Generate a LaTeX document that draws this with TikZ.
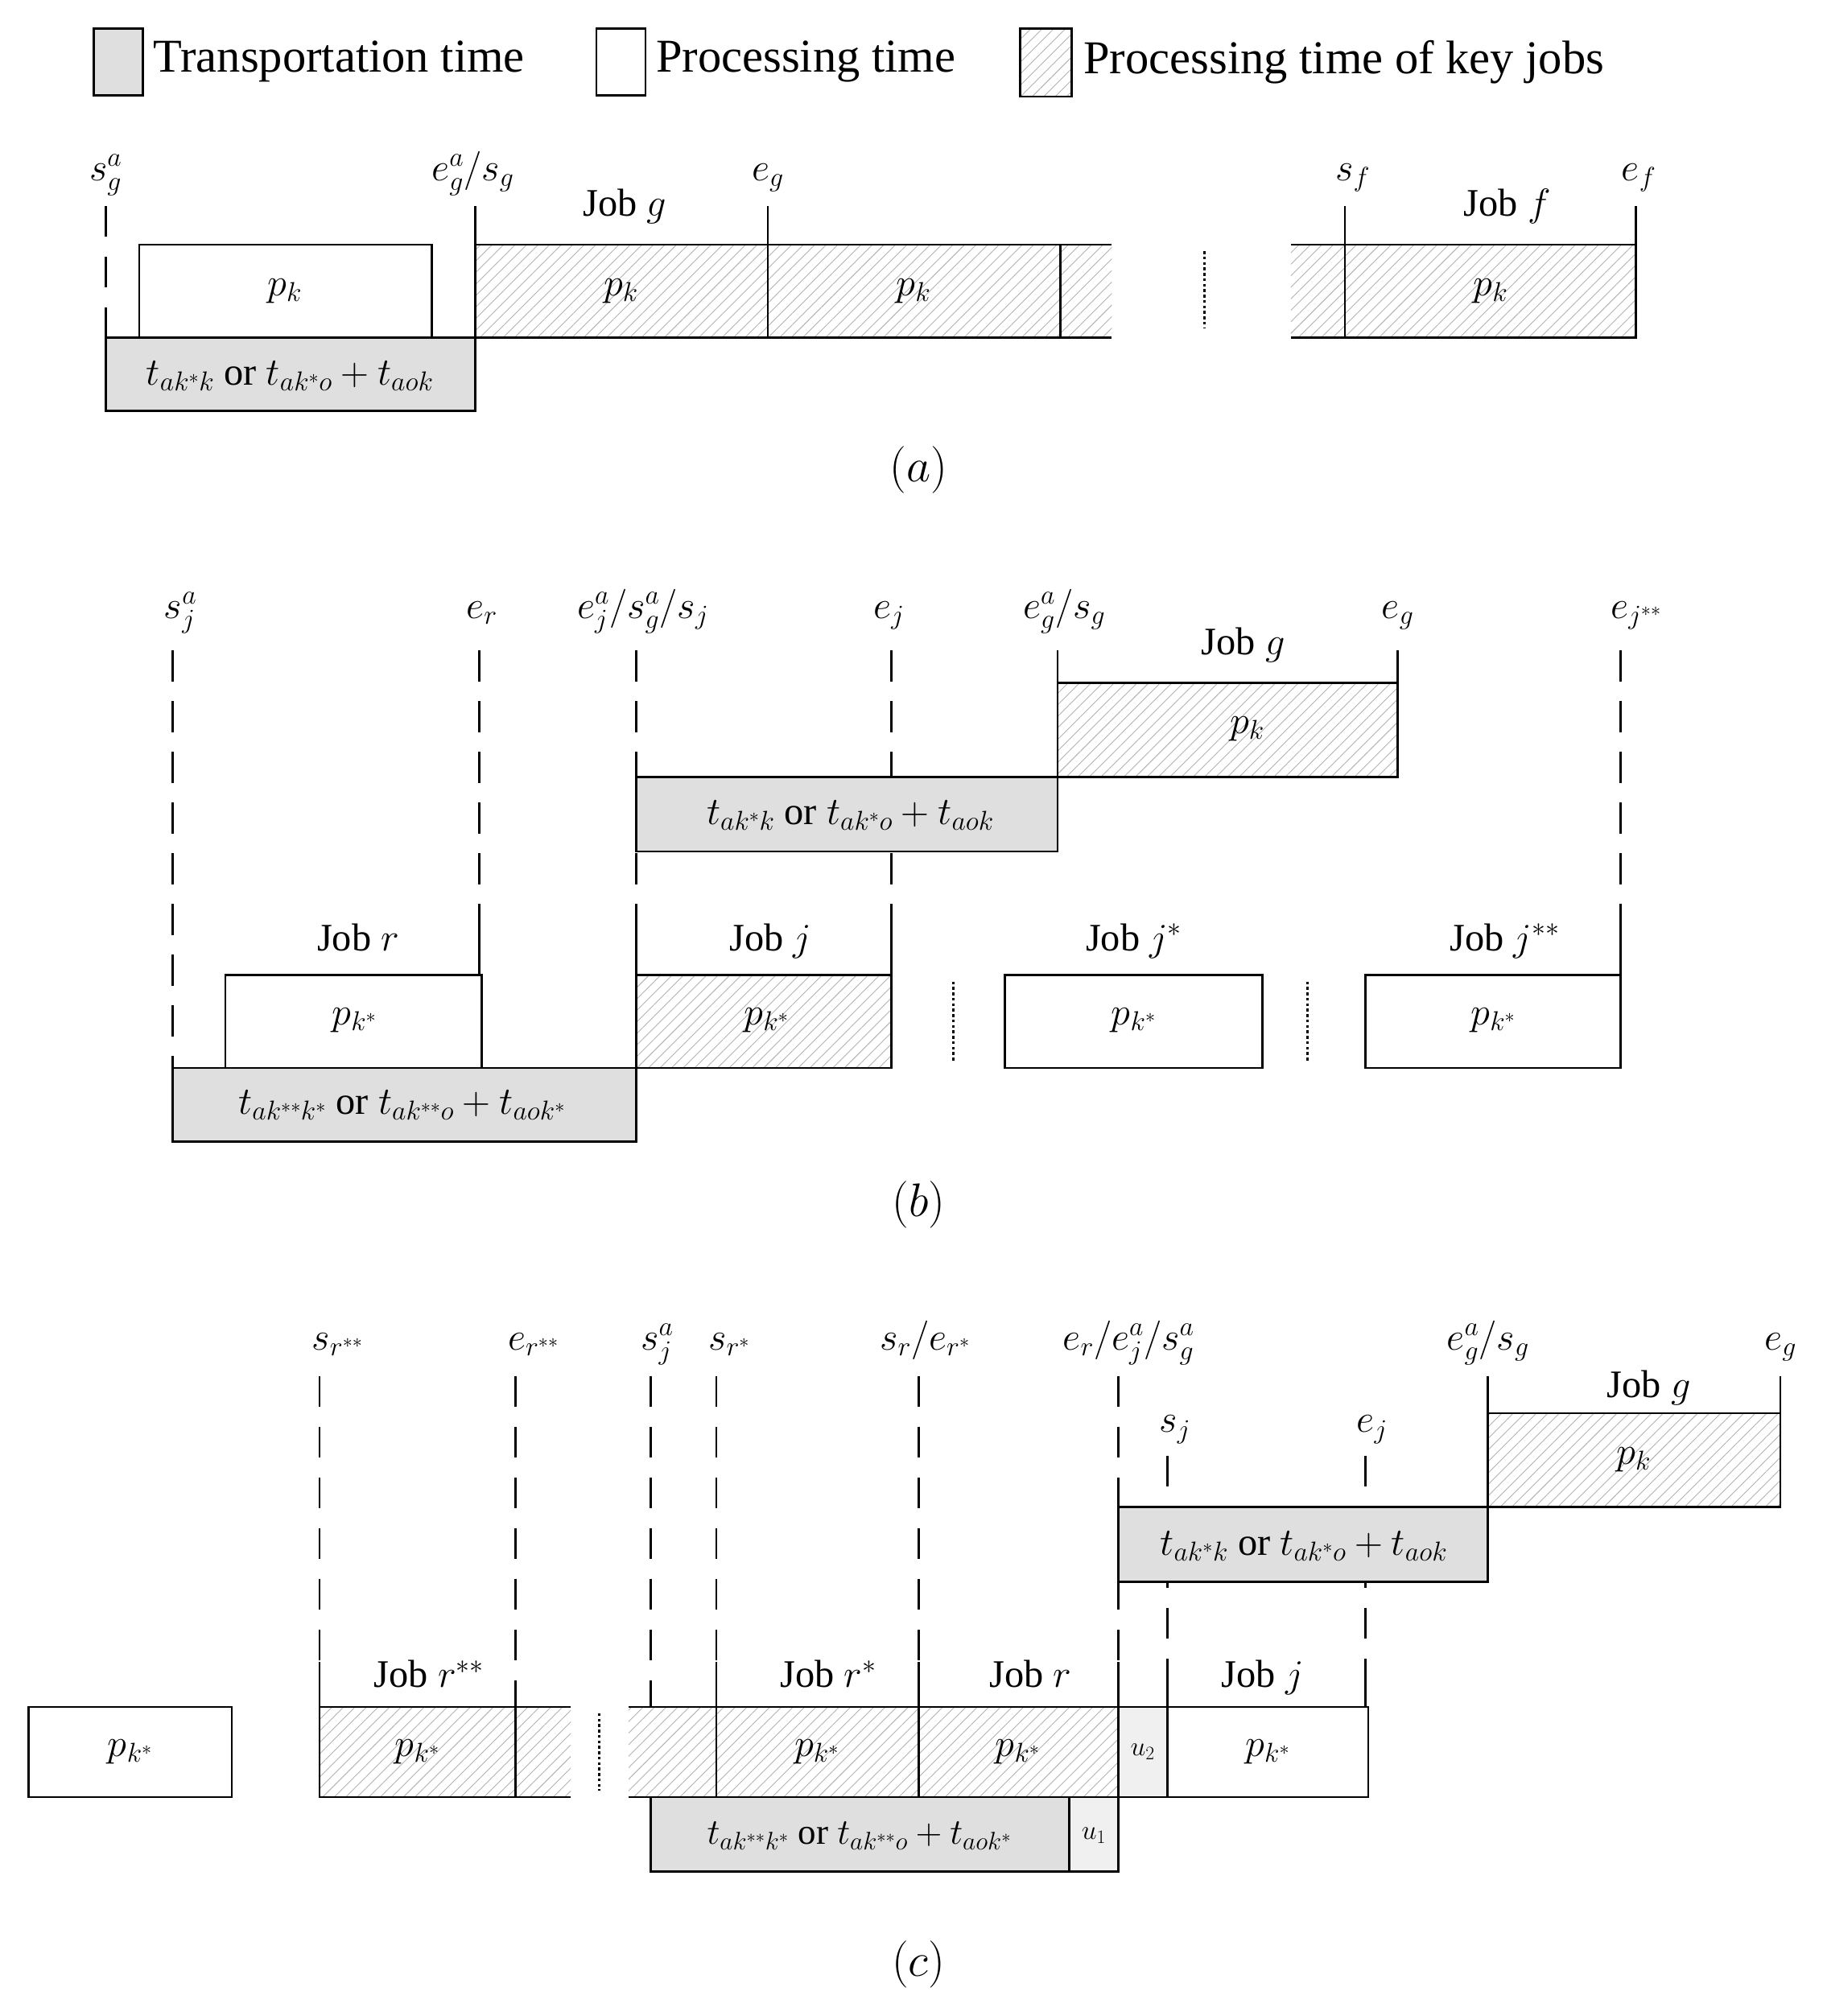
\RequirePackage{fix-cm}
\documentclass[tikz,border=0pt]{standalone}
\usepackage{fontspec}
\setmainfont{Liberation Serif}
\usetikzlibrary{patterns.meta}
\begin{document}
\begin{tikzpicture}[x=0.05cm,y=-0.05cm,line width=2.4pt,
  every node/.style={font=\fontsize{43}{50}\selectfont},
  big/.style={font=\fontsize{52}{60}\selectfont},
  tr/.style={draw,fill=gray!25},
  pr/.style={draw,fill=white},
  hk/.style={pattern={Lines[angle=45,distance=9pt,line width=0.8pt]},pattern color=gray!60},
  dl/.style={dash pattern=on 34pt off 22pt},
  lbl/.style={anchor=base,inner sep=1pt},
  sm/.style={font=\fontsize{30}{34}\selectfont}]
\useasboundingbox (0,0) rectangle (1415,1565);
% legend
\node[tr,minimum width=1.9cm,minimum height=2.6cm,inner sep=0] (L1) at (92,48) {};
\node[anchor=west,big] (L1t) at (116,48) {Transportation time};
\node[pr,minimum width=1.9cm,minimum height=2.6cm,inner sep=0] (L2) at (482,48) {};
\node[anchor=west,big] (L2t) at (506,48) {Processing time};
\draw[hk] (792,22) rectangle (832,75);
\draw (792,22) rectangle (832,75);
\node[anchor=west,big] (L3t) at (838,48) {Processing time of key jobs};
% ===== (a)
\node[lbl] (a1) at (82,140) {$s_g^a$};
\node[lbl] (a2) at (367,140) {$e_g^a/s_g$};
\node[lbl] (a3) at (596,140) {$e_g$};
\node[lbl] (a4) at (1050,140) {$s_f$};
\node[lbl] (a5) at (1272,140) {$e_f$};
\node[lbl] (ja) at (485,168) {Job $g$};
\node[lbl] (jf) at (1170,168) {Job $f$};
\draw[dl] (82,160) -- (82,262);
\draw[pr] (108,190) rectangle (335,262); \node (pa1) at (221,226) {$p_k$};
\draw[tr] (82,262) rectangle (369,319); \node (ta) at (225,292) {$t_{ak^*k}$ or $t_{ak^*o}+t_{aok}$};
\fill[hk] (369,190) rectangle (863,262);
\draw (369,160) -- (369,262) (369,190) -- (863,190) (369,262) -- (863,262);
\draw (596,160) -- (596,262) (823,190) -- (823,262);
\node (pa2) at (482,226) {$p_k$}; \node (pa3) at (709,226) {$p_k$};
\draw[line width=3pt,dash pattern=on 3pt off 3pt] (935,195) -- (935,255);
\fill[hk] (1002,190) rectangle (1270,262);
\draw (1002,190) -- (1270,190) -- (1270,262) -- (1002,262);
\draw (1044,160) -- (1044,262) (1270,160) -- (1270,190);
\node (pa4) at (1157,226) {$p_k$};
\node[big] (capa) at (713,365) {$(a)$};
% ===== (b)
\node[lbl] (b1) at (140,480) {$s_j^a$};
\node[lbl] (b2) at (374,480) {$e_r$};
\node[lbl] (b3) at (499,480) {$e_j^a/s_g^a/s_j$};
\node[lbl] (b4) at (690,480) {$e_j$};
\node[lbl] (b5) at (826,480) {$e_g^a/s_g$};
\node[lbl] (b6) at (1085,480) {$e_g$};
\node[lbl] (b7) at (1270,480) {$e_{j^{**}}$};
\draw[dl] (134,505) -- (134,829);
\draw[dl] (372,505) -- (372,757);
\draw[dl] (494,505) -- (494,757);
\draw[dl] (692,505) -- (692,757);
\draw[dl] (1258,505) -- (1258,720);
\fill[hk] (821,530) rectangle (1085,603);
\draw (821,505) -- (821,603) -- (1085,603) -- (1085,505) (821,530) -- (1085,530);
\node (pb1) at (968,566) {$p_k$};
\node[lbl] (jg) at (965,508) {Job $g$};
\draw[tr] (494,603) rectangle (821,661); \node (tb1) at (660,633) {$t_{ak^*k}$ or $t_{ak^*o}+t_{aok}$};
\node[lbl] (jr) at (278,738) {Job $r$};
\node[lbl] (jj) at (598,738) {Job $j$};
\node[lbl] (jjs) at (880,738) {Job $j^*$};
\node[lbl] (jjss) at (1168,738) {Job $j^{**}$};
\draw[pr] (175,757) rectangle (374,829); \node (pb2) at (275,792) {$p_{k^*}$};
\draw (372,720) -- (372,757);
\fill[hk] (494,757) rectangle (692,829);
\draw (494,720) -- (494,829) -- (692,829) -- (692,720) (494,757) -- (692,757);
\node (pb3) at (595,792) {$p_{k^*}$};
\draw[tr] (134,829) rectangle (494,886); \node (tb2) at (312,858) {$t_{ak^{**}k^*}$ or $t_{ak^{**}o}+t_{aok^*}$};
\draw[line width=3pt,dash pattern=on 3pt off 3pt] (740,762) -- (740,824);
\draw[pr] (780,757) rectangle (980,829); \node (pb4) at (880,792) {$p_{k^*}$};
\draw[line width=3pt,dash pattern=on 3pt off 3pt] (1015,762) -- (1015,824);
\draw[pr] (1060,757) rectangle (1258,829); \node (pb5) at (1159,792) {$p_{k^*}$};
\draw (1258,720) -- (1258,757);
\node[big] (capb) at (713,935) {$(b)$};
% ===== (c)
\node[lbl] (c1) at (262,1048) {$s_{r^{**}}$};
\node[lbl] (c2) at (414,1048) {$e_{r^{**}}$};
\node[lbl] (c3) at (510,1048) {$s_j^a$};
\node[lbl] (c4) at (566,1048) {$s_{r^*}$};
\node[lbl] (c5) at (718,1048) {$s_r/e_{r^*}$};
\node[lbl] (c6) at (876,1048) {$e_r/e_j^a/s_g^a$};
\node[lbl] (c7) at (1155,1048) {$e_g^a/s_g$};
\node[lbl] (c8) at (1382,1048) {$e_g$};
\node[lbl] (c9) at (912,1112) {$s_j$};
\node[lbl] (c10) at (1065,1112) {$e_j$};
\draw[dl] (248,1068) -- (248,1290);
\draw[dl] (400,1068) -- (400,1325);
\draw[dl] (505,1068) -- (505,1325);
\draw[dl] (556,1068) -- (556,1290);
\draw[dl] (713,1068) -- (713,1290);
\draw[dl] (868,1068) -- (868,1290);
\draw[dl] (906,1130) -- (906,1290);
\draw[dl] (1060,1130) -- (1060,1290);
\fill[hk] (1155,1097) rectangle (1382,1170);
\draw (1155,1068) -- (1155,1170) -- (1382,1170) -- (1382,1068) (1155,1097) -- (1382,1097);
\node (pc1) at (1268,1133) {$p_k$};
\node[lbl] (jgc) at (1280,1085) {Job $g$};
\draw[tr] (868,1170) rectangle (1155,1228); \node (tc1) at (1012,1200) {$t_{ak^*k}$ or $t_{ak^*o}+t_{aok}$};
\draw[pr] (22,1325) rectangle (180,1395); \node (pc0) at (101,1360) {$p_{k^*}$};
\fill[hk] (248,1325) rectangle (443,1395);
\draw (443,1325) -- (248,1325) -- (248,1395) -- (443,1395) (400,1325) -- (400,1395) (248,1290) -- (248,1325);
\node (pc2) at (324,1360) {$p_{k^*}$};
\draw[line width=3pt,dash pattern=on 3pt off 3pt] (465,1330) -- (465,1390);
\fill[hk] (488,1325) rectangle (868,1395);
\draw (488,1325) -- (868,1325) (488,1395) -- (505,1395);
\draw (556,1290) -- (556,1395) (713,1290) -- (713,1395) (868,1290) -- (868,1395);
\node (pc3) at (634,1360) {$p_{k^*}$};
\node (pc4) at (790,1360) {$p_{k^*}$};
\draw[fill=gray!12] (868,1325) rectangle (906,1395); \node[sm] (u2) at (887,1360) {$u_2$};
\draw[pr] (906,1325) rectangle (1062,1395); \node (pc5) at (984,1360) {$p_{k^*}$};
\draw (906,1290) -- (906,1325) (1060,1290) -- (1060,1325);
\draw[tr] (505,1395) rectangle (830,1453); \node[font=\fontsize{40}{46}\selectfont] (tc2) at (667,1425) {$t_{ak^{**}k^*}$ or $t_{ak^{**}o}+t_{aok^*}$};
\draw[fill=gray!12] (830,1395) rectangle (868,1453); \node[sm] (u1) at (849,1425) {$u_1$};
\node[lbl] (jr2) at (333,1310) {Job $r^{**}$};
\node[lbl] (jr1) at (643,1310) {Job $r^*$};
\node[lbl] (jr0) at (800,1310) {Job $r$};
\node[lbl] (jjc) at (980,1310) {Job $j$};
\node[big] (capc) at (713,1525) {$(c)$};
\end{tikzpicture}
\end{document}
